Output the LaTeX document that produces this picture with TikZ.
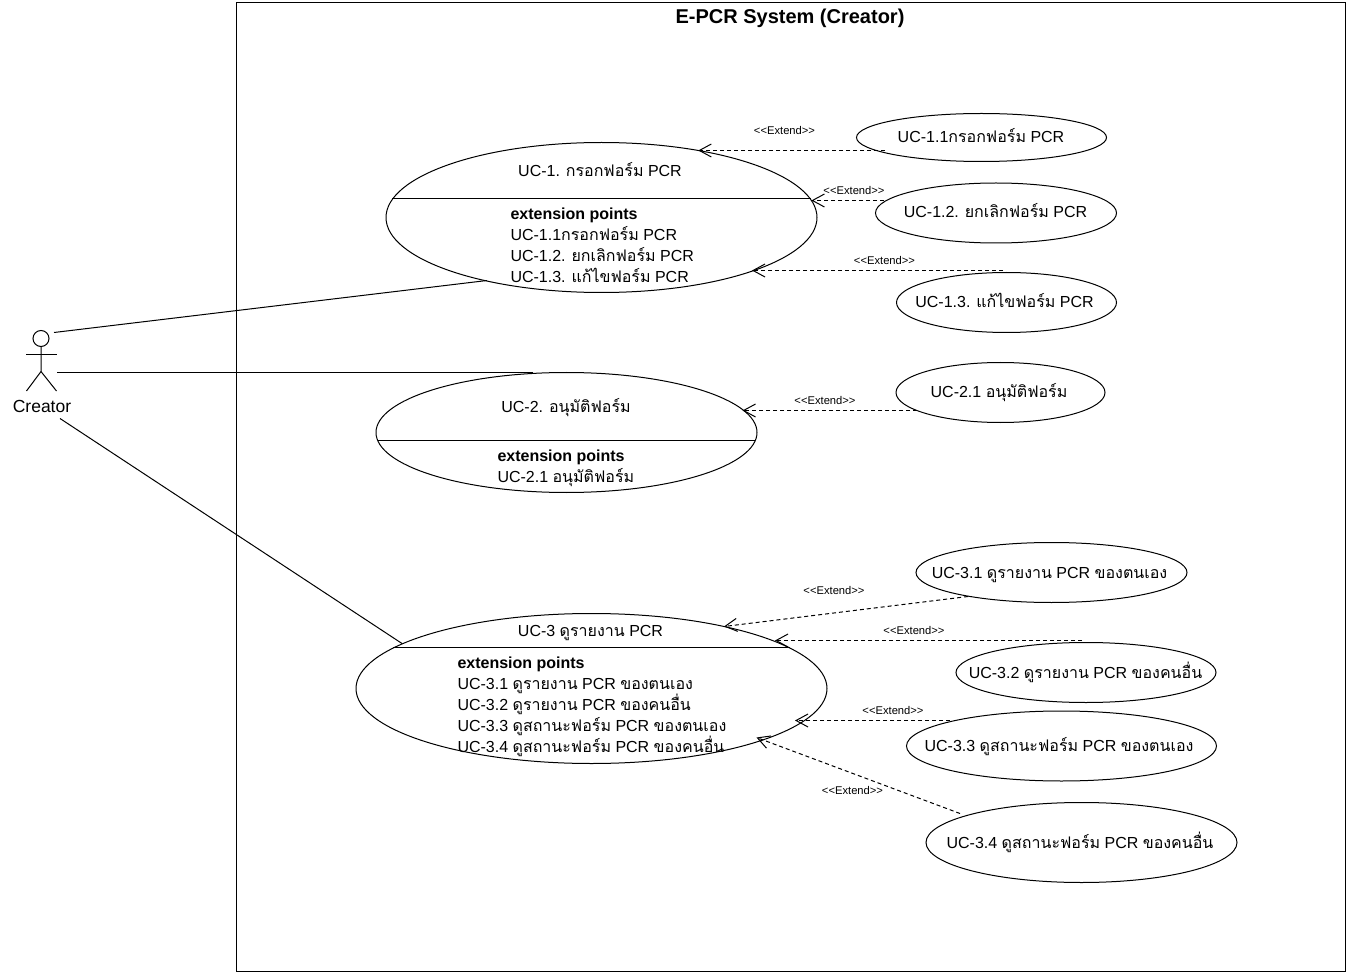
\documentclass[tikz,border=0pt]{standalone}
\usepackage{fontspec}
\setmainfont{Liberation Sans}
\newfontfamily\thaifont[Script=Thai]{Loma}
\newcommand{\tht}[1]{{\thaifont #1}}
\usetikzlibrary{shapes.geometric,arrows.meta}
\tikzset{
	usecase/.style n args={2}{ellipse,draw,minimum width=#1,minimum height=#2,inner sep=0pt,outer sep=0pt},
	uctext/.style={inner sep=0pt,text height=12pt,text depth=0pt,font=\fontsize{16pt}{16pt}\selectfont},
	extpoint/.style={uctext,anchor=west},
	extlabel/.style={inner sep=0pt,font=\fontsize{11.2pt}{12pt}\selectfont},
	extend/.style={dash pattern=on 4pt off 3pt,-{Straight Barb[length=12pt,width=13pt]}},
}
\begin{document}
\begin{tikzpicture}[x=1pt,y=-1pt,line width=1pt]
	\useasboundingbox (0,-0.5) rectangle (1350,975.5);
	\node[draw,minimum width=1109pt,minimum height=969pt,inner sep=0pt,outer sep=0pt] (system) at (791,486.5) {};
	\node[inner sep=0pt,font=\bfseries\fontsize{20pt}{20pt}\selectfont] (systemtitle) at (790,18) {E-PCR System (Creator)};

	\draw (41,338) circle (8);
	\draw (41,346) -- (41,371) -- (26.5,390.5);
	\draw (41,371) -- (56.5,390.5);
	\draw (26,354) -- (57,354);
	\node[inner sep=0pt,font=\fontsize{17.5pt}{18pt}\selectfont] (creator) at (42,405.5) {Creator};
	\coordinate (creatorA) at (54,332);
	\coordinate (creatorB) at (57,372.5);
	\coordinate (creatorC) at (60,418);

	\node[usecase={431pt}{150pt}] (uc1) at (601.5,217) {};
	\node[usecase={250pt}{48pt}] (uc11) at (981.5,137) {};
	\node[usecase={241pt}{60pt}] (uc12) at (996,212.5) {};
	\node[usecase={220pt}{60pt}] (uc13) at (1006.5,302) {};
	\node[usecase={381pt}{120pt}] (uc2) at (566.5,432) {};
	\node[usecase={209pt}{60pt}] (uc21) at (1000.5,392) {};
	\node[usecase={471pt}{150pt}] (uc3) at (591.5,688) {};
	\node[usecase={271pt}{60pt}] (uc31) at (1051.5,572) {};
	\node[usecase={260pt}{60pt}] (uc32) at (1086,672) {};
	\node[usecase={310pt}{70pt}] (uc33) at (1061.5,745.5) {};
	\node[usecase={311pt}{80pt}] (uc34) at (1081.5,842) {};

	\coordinate (uc13top) at (1003,270);
	\coordinate (uc32top) at (1082,640);

	\draw (392,198) -- (811,198);
	\draw (378,440) -- (755,440);
	\draw (393,647) -- (790,647);

	\node[uctext] (uc1title) at (600,170) {UC-1. \tht{กรอกฟอร์ม} PCR};
	\node[extpoint,font=\bfseries\fontsize{16pt}{16pt}\selectfont] (uc1ext) at (510,213.5) {extension points};
	\node[extpoint] (uc1exta) at (510,234.5) {UC-1.1\tht{กรอกฟอร์ม} PCR};
	\node[extpoint] (uc1extb) at (510,255.5) {UC-1.2. \tht{ยกเลิกฟอร์ม} PCR};
	\node[extpoint] (uc1extc) at (510,276.5) {UC-1.3. \tht{แก้ไขฟอร์ม} PCR};

	\node[uctext] (uc2title) at (566,406) {UC-2. \tht{อนุมัติฟอร์ม}};
	\node[extpoint,font=\bfseries\fontsize{16pt}{16pt}\selectfont] (uc2ext) at (497,455) {extension points};
	\node[extpoint] (uc2exta) at (497,476) {UC-2.1 \tht{อนุมัติฟอร์ม}};

	\node[uctext] (uc3title) at (590.5,629.5) {UC-3 \tht{ดูรายงาน} PCR};
	\node[extpoint,font=\bfseries\fontsize{16pt}{16pt}\selectfont] (uc3ext) at (457,662) {extension points};
	\node[extpoint] (uc3exta) at (457,683) {UC-3.1 \tht{ดูรายงาน} PCR \tht{ของตนเอง}};
	\node[extpoint] (uc3extb) at (457,704) {UC-3.2 \tht{ดูรายงาน} PCR \tht{ของคนอื่น}};
	\node[extpoint] (uc3extc) at (457,725) {UC-3.3 \tht{ดูสถานะฟอร์ม} PCR \tht{ของตนเอง}};
	\node[extpoint] (uc3extd) at (457,746) {UC-3.4 \tht{ดูสถานะฟอร์ม} PCR \tht{ของคนอื่น}};

	\node[uctext] (uc11text) at (981,136) {UC-1.1\tht{กรอกฟอร์ม} PCR};
	\node[uctext] (uc12text) at (995.5,211.5) {UC-1.2. \tht{ยกเลิกฟอร์ม} PCR};
	\node[uctext] (uc13text) at (1004.5,301.5) {UC-1.3. \tht{แก้ไขฟอร์ม} PCR};
	\node[uctext] (uc21text) at (999,391.5) {UC-2.1 \tht{อนุมัติฟอร์ม}};
	\node[uctext] (uc31text) at (1049.5,571.5) {UC-3.1 \tht{ดูรายงาน} PCR \tht{ของตนเอง}};
	\node[uctext] (uc32text) at (1085.5,671.5) {UC-3.2 \tht{ดูรายงาน} PCR \tht{ของคนอื่น}};
	\node[uctext] (uc33text) at (1059,744.5) {UC-3.3 \tht{ดูสถานะฟอร์ม} PCR \tht{ของตนเอง}};
	\node[uctext] (uc34text) at (1080,841.5) {UC-3.4 \tht{ดูสถานะฟอร์ม} PCR \tht{ของคนอื่น}};

	\draw (creatorA) -- ([shift={(-114.5,63)}]uc1.center);
	\draw (creatorB) -- ([shift={(-33.5,-59.5)}]uc2.center);
	\draw (creatorC) -- ([shift={(-189.5,-45)}]uc3.center);

	\draw[extend] ([shift={(-96.5,13)}]uc11.center) -- ([shift={(96.8,-67)}]uc1.center);
	\draw[extend] ([shift={(-112,-12.5)}]uc12.center) -- ([shift={(209.9,-17)}]uc1.center);
	\draw[extend] (uc13top) -- ([shift={(150.5,53)}]uc1.center);
	\draw[extend] ([shift={(-83.5,18)}]uc21.center) -- ([shift={(176,-22)}]uc2.center);
	\draw[extend] ([shift={(-83.5,24)}]uc31.center) -- ([shift={(132.5,-62)}]uc3.center);
	\draw[extend] (uc32top) -- ([shift={(183.5,-48)}]uc3.center);
	\draw[extend] ([shift={(-111.5,-25.5)}]uc33.center) -- ([shift={(203.5,32)}]uc3.center);
	\draw[extend] ([shift={(-121.5,-29)}]uc34.center) -- ([shift={(165,49)}]uc3.center);

	\node[extlabel] (ext11) at (784.5,129.5) {{<}{<}Extend{>}{>}};
	\node[extlabel] (ext12) at (854,189.5) {{<}{<}Extend{>}{>}};
	\node[extlabel] (ext13) at (884.5,259.5) {{<}{<}Extend{>}{>}};
	\node[extlabel] (ext21) at (825,399.5) {{<}{<}Extend{>}{>}};
	\node[extlabel] (ext31) at (834,589.5) {{<}{<}Extend{>}{>}};
	\node[extlabel] (ext32) at (914,629.5) {{<}{<}Extend{>}{>}};
	\node[extlabel] (ext33) at (893,709.5) {{<}{<}Extend{>}{>}};
	\node[extlabel] (ext34) at (852.5,789.5) {{<}{<}Extend{>}{>}};
\end{tikzpicture}
\end{document}
